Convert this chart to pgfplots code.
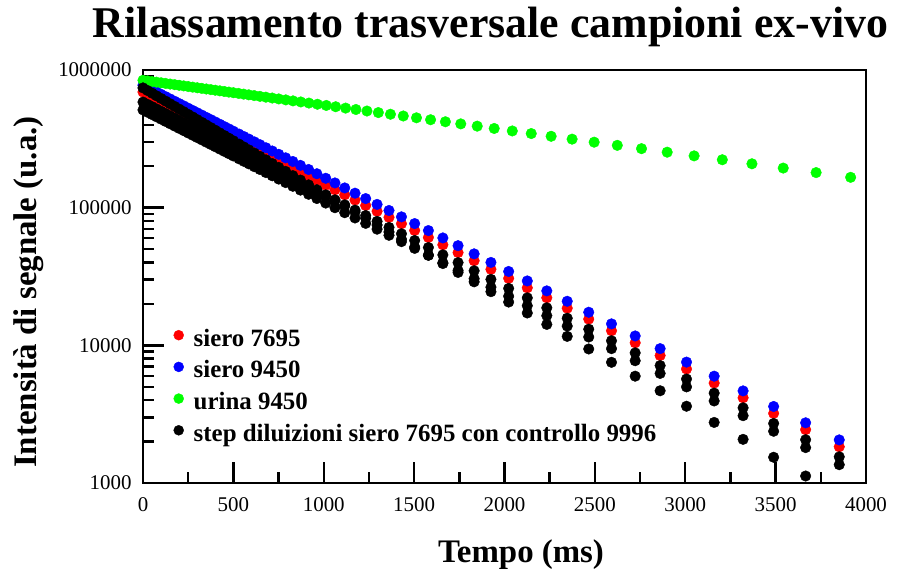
\documentclass[border=0pt]{standalone}
\usepackage{fontspec}
\setmainfont{Liberation Serif}
\usepackage{pgfplots}
\usepackage{pgfplotstable}
\pgfplotsset{compat=1.18}

\definecolor{cRed}{RGB}{255,0,0}
\definecolor{cBlue}{RGB}{0,0,255}
\definecolor{cGreen}{RGB}{0,255,0}

% Serum samples and dilution steps share the same echo times (ms)
\pgfplotstableread{
t     red     blue    bA      bB      bC
0     691800  776200  584800  512800  741300
25    665600  746800  562600  493400  709300
50    640500  718600  541400  474800  678500
75    616300  691500  521000  456900  649100
100   593100  665400  501300  439600  621000
125   570700  640300  482400  423000  594100
150   549000  616000  464100  407000  568400
175   528400  592800  446600  391700  543800
200   508400  570400  429700  376900  520200
225   489200  548900  413500  362700  497700
250   470700  528100  397900  348900  476200
275   453000  508200  382900  335800  455600
300   435800  489000  368400  323100  435900
325   419400  470600  354500  310900  417000
350   403500  452700  341100  299100  398900
375   388300  435700  328300  287900  381600
400   373600  419200  315800  277000  365100
425   359600  403400  303900  266500  349300
450   345800  388000  292300  256400  334100
475   332800  373400  281300  246700  319700
500   320200  359300  270700  237400  305900
531   305400  342600  258100  226400  289600
558   292900  328600  247600  217100  276000
586   280600  314800  237200  208000  262700
616   267800  300500  226400  198500  249100
647   255400  286600  215900  189400  235800
680   242700  272300  205200  179900  222400
715   230000  258000  194400  170500  209000
751   217600  244100  183900  161300  196100
789   205200  230200  173400  152100  183400
829   193000  216500  163100  143000  170800
871   180800  202900  152900  134100  158600
916   168800  189400  142700  125100  146400
962   157200  176400  132900  116500  135000
1011  145700  163500  123200  108000  123700
1062  134800  151200  113900  99900   113100
1116  124000  139100  104800  91900   102800
1173  113600  127400  95980   84170   92900
1232  103700  116400  87700   76910   83670
1295  94120   105600  79560   69770   74820
1361  85020   95390   71870   63020   66590
1430  76440   85760   64610   56660   58930
1503  68300   76630   57730   50630   51780
1579  60760   68170   51360   45040   45260
1659  53720   60270   45410   39820   39280
1743  47190   52950   39890   34980   33850
1832  41160   46180   34790   30510   28930
1925  35660   40010   30140   26430   24530
2023  30660   34400   25920   22730   20620
2126  26170   29360   22120   19400   17180
2234  22160   24860   18730   16430   14190
2347  18620   20890   15740   13800   11620
2466  15500   17390   13100   11490   9410
2592  12760   14320   10790   9461    7528
2723  10430   11700   8815    7730    5970
2861  8434    9462    7129    6252    4677
3007  6733    7554    5691    4991    3611
3160  5321    5970    4498    3944    2754
3320  4160    4667    3516    3083    2075
3489  3205    3596    2709    2376    1538
3666  2440    2737    2062    1808    1124
3852  1833    2056    1549    1358    809
}\tabSiero

% Urine sample
\pgfplotstableread{
t     g
0     841400
25    832700
50    824100
75    815600
100   807200
125   799000
150   790700
175   782600
200   774500
225   766500
250   758600
275   750800
300   743000
325   735400
350   727800
375   720300
400   712900
425   705500
450   698200
475   691000
500   683900
529   675800
557   667900
585   660200
615   652100
647   643400
680   634700
715   625600
751   616400
790   606500
830   596500
873   586000
918   575200
965   564000
1014  552700
1066  540900
1121  528700
1178  516400
1239  503500
1302  490400
1369  477100
1440  463300
1513  449500
1591  435200
1673  420700
1758  406100
1849  391000
1943  376100
2043  360800
2148  345400
2258  330000
2374  314600
2496  299000
2624  283600
2758  268300
2900  252900
3049  237800
3205  222900
3369  208300
3542  193900
3724  179800
3915  166100
}\tabUrina

\begin{document}
\begin{tikzpicture}
\useasboundingbox (0bp,0bp) rectangle (897bp,570bp);

\node[anchor=base, font=\bfseries\fontsize{44}{44}\selectfont, inner sep=0pt]
  at (490.5bp,532bp) {Rilassamento trasversale campioni ex-vivo};
\node[anchor=base, rotate=90, font=\bfseries\fontsize{33}{33}\selectfont, inner sep=0pt]
  at (36bp,278bp) {Intensità di segnale (u.a.)};
\node[anchor=base, font=\bfseries\fontsize{33}{33}\selectfont, inner sep=0pt]
  at (521bp,8bp) {Tempo (ms)};

\begin{axis}[
  at={(143bp,87bp)}, anchor=south west,
  width=723bp, height=413bp, scale only axis,
  xmin=0, xmax=4000, ymin=1000, ymax=1000000,
  ymode=log, log basis y=10,
  axis line style={line width=2.6bp},
  tick style={line width=2.4bp, black},
  major tick length=21bp, minor tick length=11bp,
  tick align=inside,
  xtick pos=left, ytick pos=left,
  xtick={0,500,1000,1500,2000,2500,3000,3500,4000},
  minor xtick={250,750,1250,1750,2250,2750,3250,3750},
  ytick={1000,10000,100000,1000000},
  yticklabels={1000,10000,100000,1000000},
  minor ytick={2000,3000,4000,5000,6000,7000,8000,9000,
    20000,30000,40000,50000,60000,70000,80000,90000,
    200000,300000,400000,500000,600000,700000,800000,900000},
  /pgf/number format/1000 sep={},
  /pgf/number format/assume math mode=true,
  tick label style={font=\fontsize{21}{21}\selectfont},
  xticklabel style={yshift=-11bp},
  yticklabel style={xshift=-8bp},
  legend cell align=left,
  legend style={draw=none, fill=none, inner sep=0pt,
    at={(0.0422,0.3753)}, anchor=north west,
    row sep=7.7bp, column sep=10bp,
    nodes={inner xsep=0pt, inner ysep=0pt, text height=18bp, text depth=6bp,
      font=\bfseries\fontsize{25}{25}\selectfont}},
  legend image code/.code={\draw[#1, mark size=5bp] plot coordinates {(0bp,5bp)};},
  every axis plot/.append style={only marks, mark=*, mark size=5.3bp, mark options={draw=none}},
]
\addplot[color=cRed] table[x=t, y=red] {\tabSiero};
\addlegendentry{siero 7695}
\addplot[color=cBlue] table[x=t, y=blue] {\tabSiero};
\addlegendentry{siero 9450}
\addplot[color=cGreen] table[x=t, y=g] {\tabUrina};
\addlegendentry{urina 9450}
\addplot[color=black] table[x=t, y=bA] {\tabSiero};
\addlegendentry{step diluizioni siero 7695 con controllo 9996}
\addplot[color=black, forget plot] table[x=t, y=bB] {\tabSiero};
\addplot[color=black, forget plot] table[x=t, y=bC] {\tabSiero};
\end{axis}
\end{tikzpicture}
\end{document}
